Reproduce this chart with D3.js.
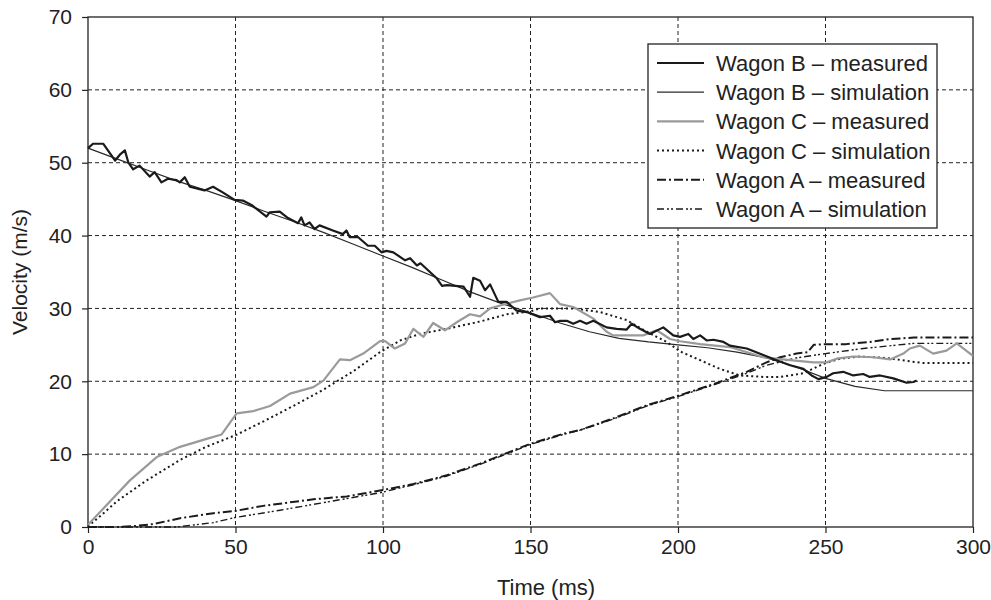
<!DOCTYPE html>
<html>
<head>
<meta charset="utf-8">
<script src="https://cdn.jsdelivr.net/npm/d3@7"></script>
<style>
  html, body { margin: 0; padding: 0; background: #fff; }
  svg { display: block; font-family: "Liberation Sans", Arial, Helvetica, sans-serif; }
</style>
</head>
<body>
<svg id="chart" width="991" height="600"></svg>
<script>
// ---------- data ----------
const xTicks = [0, 50, 100, 150, 200, 250, 300];
const yTicks = [0, 10, 20, 30, 40, 50, 60, 70];

const bMeasT = [0,1.7,5.2,9.2,10.8,12.5,13.7,15.3,17.5,20.9,22.6,24.9,27.1,30,31.1,32.8,34.5,39.5,42.4,45.8,49.7,52.5,55.4,60.5,61.6,65,67.8,71.2,72.3,73.4,75.1,76.8,78.5,83,86.4,87.6,88.7,91.5,94.9,97.2,99.5,101.2,103.5,107.5,109.2,111.5,112.7,118.3,120,121.7,127.3,129.5,130.6,132.9,134.6,136.3,139.1,141.9,145.3,148.7,153.2,156.6,158.3,160,162.3,164.5,166.8,169,171.3,175.8,179.2,182.6,184.3,187.1,190.5,195,198.4,200.7,203.5,205.2,207.5,209.7,212,215.4,217.6,223.3,228.9,233.4,238,242.5,245.3,247.6,250.4,252.6,256,259.4,262.8,265,268.5,273,277.5,279.8,280.9];
const bMeasV = [52.0,52.6,52.6,50.3,51.1,51.7,50.0,49.1,49.6,48.1,48.7,47.3,47.8,47.6,47.3,48.0,46.7,46.2,46.7,45.9,44.9,44.8,44.2,42.6,43.2,43.3,42.4,41.7,42.5,41.4,41.8,40.9,41.4,40.7,40.2,40.7,39.8,39.8,38.6,38.6,37.7,37.9,37.7,36.6,36.9,35.9,36.2,34.1,33.1,33.2,33.0,31.6,34.2,33.8,32.5,33.3,30.9,30.9,29.7,29.5,28.8,29.0,28.1,28.3,28.3,27.9,28.3,27.9,28.3,27.4,27.2,27.1,27.9,27.2,26.5,27.4,26.3,26.1,26.5,25.8,26.3,25.6,25.7,25.4,24.9,24.5,23.6,22.9,22.2,21.7,20.8,20.3,20.6,21.1,21.3,20.8,21.0,20.6,20.8,20.4,19.8,19.9,20.1];

const bSimT = [0,10,20,30,40,50,60,70,80,90,100,110,120,130,140,150,160,170,180,190,200,210,220,230,240,250,260,270,280,290,300];
const bSimV = [52.0,50.5,49.0,47.5,46.2,44.8,43.3,41.9,40.4,38.8,37.2,35.6,33.9,32.2,30.7,29.4,28.0,26.8,25.9,25.4,25.0,24.6,24.0,23.2,22.0,20.4,19.3,18.7,18.7,18.7,18.7];

const cMeasT = [0,14.2,23.3,31.2,40.2,45.3,50.4,56,61.7,68.5,76.4,79.8,85.4,88.8,93.3,99,100.7,104,107.5,110.3,113.7,117,121,125,129.5,132.9,136.3,139.7,146.4,150.9,156.6,160,164.5,171.3,175.8,178,188.2,192.8,197.3,200.7,207.5,217.6,228.9,238,245.9,250.4,253.8,259.4,266.2,271.9,276.4,278.6,282,286.5,291,294.5,299,300];
const cMeasV = [0.3,6.4,9.6,11.0,12.1,12.7,15.6,15.9,16.6,18.3,19.2,20.1,23.0,22.9,23.8,25.5,25.5,24.5,25.2,27.2,26.1,28.0,27.0,28.1,29.2,28.9,30.0,30.4,31.1,31.5,32.1,30.6,30.2,28.6,26.8,26.3,26.3,27.0,25.8,25.5,25.1,24.7,23.3,22.9,22.6,22.6,23.1,23.4,23.3,23.0,23.8,24.5,24.9,23.8,24.2,25.2,23.8,23.5];

const cSimT = [0,1.2,5,10,19.9,31.2,40,50,60,70,76.4,80,90,99,105.8,112.5,121.6,132.9,142,150,153.2,164.5,173.6,182.6,189.4,196.2,200.7,207.5,214.2,221,228.9,234.6,242.5,249.3,254.9,261.7,270.7,277.5,283.2,300];
const cSimV = [0,0.5,1.8,3.6,6.4,9.2,11.0,12.6,14.6,16.7,18.1,18.9,21.4,24.0,25.6,26.5,27.2,28.2,29.2,29.6,30.0,30.0,29.5,28.4,26.8,25.4,24.1,22.9,21.7,20.8,20.6,20.6,21.1,22.4,23.1,23.4,23.2,22.8,22.5,22.5];

const aMeasT = [0,10,15,22.1,31.2,42.5,49.8,59.4,76.4,87.7,99,110.3,121.6,132.9,144.2,149.8,161.1,166.8,178,189.4,200.7,212,223.3,230,234.6,240.2,244,246,250.4,257,265,272,280,300];
const aMeasV = [0,0,0.1,0.4,1.2,1.9,2.2,2.9,3.8,4.2,5.0,5.9,7.1,8.7,10.5,11.4,12.8,13.3,14.9,16.7,18.1,19.6,21.3,22.6,23.3,23.8,24.0,25.0,25.1,25.1,25.4,25.8,26.0,26.0];

const aSimT = [0,30,42.5,49.8,65.1,82,99,110.3,121.6,132.9,144.2,149.8,161.1,166.8,178,189.4,200.7,212,223.3,230,240,250,262.8,279.8,300];
const aSimV = [0,0,0.6,1.3,2.3,3.5,4.7,5.8,7.0,8.6,10.4,11.3,12.7,13.3,14.8,16.6,18.0,19.5,21.1,22.2,23.2,23.8,24.5,25.2,25.2];

const seriesNames = ["Wagon B \u2013 measured","Wagon B \u2013 simulation","Wagon C \u2013 measured","Wagon C \u2013 simulation","Wagon A \u2013 measured","Wagon A \u2013 simulation"];

// ---------- layout ----------
const svg = d3.select("#chart");
const m = {left: 88, top: 17, right: 18, bottom: 73};
const W = 991 - m.left - m.right, H = 600 - m.top - m.bottom;
const g = svg.append("g").attr("transform", `translate(${m.left},${m.top})`);

const x = d3.scaleLinear().domain([0, 300]).range([0, W]);
const y = d3.scaleLinear().domain([0, 70]).range([H, 0]);

// grid
g.append("g").selectAll("line").data(xTicks.filter(d => d > 0 && d < 300)).join("line")
  .attr("x1", d => x(d)).attr("x2", d => x(d)).attr("y1", 0).attr("y2", H)
  .attr("stroke", "#222").attr("stroke-width", 1).attr("stroke-dasharray", "4,3");
g.append("g").selectAll("line").data(yTicks.filter(d => d > 0 && d < 70)).join("line")
  .attr("x1", 0).attr("x2", W).attr("y1", d => y(d)).attr("y2", d => y(d))
  .attr("stroke", "#222").attr("stroke-width", 1).attr("stroke-dasharray", "4,3");

// axes
const xAxis = g.append("g").attr("transform", `translate(0,${H})`)
  .call(d3.axisBottom(x).tickValues(xTicks).tickSize(6).tickPadding(6).tickFormat(d3.format("d")));
const yAxis = g.append("g")
  .call(d3.axisLeft(y).tickValues(yTicks).tickSize(6).tickPadding(10).tickFormat(d3.format("d")));
[xAxis, yAxis].forEach(a => {
  a.select(".domain").remove();
  a.selectAll("line").attr("stroke", "#222").attr("stroke-width", 1.2);
  a.selectAll("text").attr("font-size", 21).attr("fill", "#222")
   .attr("font-family", "'Liberation Sans', Arial, sans-serif");
});

// frame
g.append("rect").attr("x", 0).attr("y", 0).attr("width", W).attr("height", H)
  .attr("fill", "none").attr("stroke", "#222").attr("stroke-width", 1.3);

// lines
const line = d3.line().x(d => x(d[0])).y(d => y(d[1]));
const zip = (T, V) => T.map((t, i) => [t, V[i]]);

const styles = [
  {data: zip(bMeasT, bMeasV), stroke: "#1a1a1a", w: 2.2, dash: null},
  {data: zip(bSimT, bSimV), stroke: "#2a2a2a", w: 1.2, dash: null},
  {data: zip(cMeasT, cMeasV), stroke: "#9a9a9a", w: 2.2, dash: null},
  {data: zip(cSimT, cSimV), stroke: "#1a1a1a", w: 2, dash: "2,3"},
  {data: zip(aMeasT, aMeasV), stroke: "#1a1a1a", w: 2, dash: "9,3,2,3"},
  {data: zip(aSimT, aSimV), stroke: "#1a1a1a", w: 1.4, dash: "7,3,2,2,2,3"}
];
const drawOrder = [1, 3, 5, 4, 2, 0];
drawOrder.forEach(i => {
  const s = styles[i];
  g.append("path").datum(s.data).attr("d", line)
    .attr("fill", "none").attr("stroke", s.stroke).attr("stroke-width", s.w)
    .attr("stroke-linejoin", "round")
    .attr("stroke-dasharray", s.dash);
});

// legend
const lg = svg.append("g").attr("transform", "translate(648,44)");
lg.append("rect").attr("width", 289).attr("height", 184)
  .attr("fill", "#fff").attr("stroke", "#222").attr("stroke-width", 1.3);
seriesNames.forEach((name, i) => {
  const s = styles[i];
  const yy = 19 + i * 29.2;
  lg.append("line").attr("x1", 9).attr("x2", 56).attr("y1", yy).attr("y2", yy)
    .attr("stroke", s.stroke).attr("stroke-width", s.w).attr("stroke-dasharray", s.dash);
  lg.append("text").attr("x", 68).attr("y", yy).attr("dy", "0.36em")
    .attr("font-size", 22).attr("fill", "#222").text(name);
});

// axis titles
svg.append("text").attr("x", 546).attr("y", 595).attr("text-anchor", "middle")
  .attr("font-size", 22).attr("fill", "#222").text("Time (ms)");
svg.append("text").attr("transform", "translate(27,272) rotate(-90)")
  .attr("text-anchor", "middle").attr("font-size", 21).attr("fill", "#222").text("Velocity (m/s)");
</script>
</body>
</html>
